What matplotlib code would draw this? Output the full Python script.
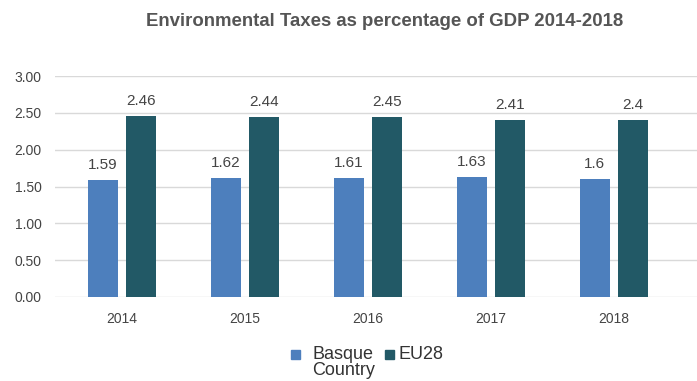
import matplotlib
matplotlib.use("Agg")
import matplotlib.pyplot as plt
import matplotlib.patches as mpatches
import numpy as np

plt.rcParams['font.family'] = ['Liberation Sans', 'DejaVu Sans']

years = ["2014", "2015", "2016", "2017", "2018"]
basque = [1.59, 1.62, 1.61, 1.63, 1.60]
eu28 = [2.46, 2.44, 2.45, 2.41, 2.40]
basque_labels = ["1.59", "1.62", "1.61", "1.63", "1.6"]
eu28_labels = ["2.46", "2.44", "2.45", "2.41", "2.4"]
yticks = [0.0, 0.5, 1.0, 1.5, 2.0, 2.5, 3.0]

c_basque = "#4d7fbd"
c_eu = "#225966"
txt = "#444444"

W, H = 697, 381
fig = plt.figure(figsize=(W / 100, H / 100), dpi=100)
ax = fig.add_axes([0.079, 0.2205, 0.921, 0.5795])

x = np.arange(len(years))
w = 0.245
off = 0.155
b1 = ax.bar(x - off, basque, w, color=c_basque, zorder=3)
b2 = ax.bar(x + off, eu28, w, color=c_eu, zorder=3)

for bars, labels in ((b1, basque_labels), (b2, eu28_labels)):
    for rect, lab in zip(bars, labels):
        ax.annotate(lab, (rect.get_x() + rect.get_width() / 2, rect.get_height()),
                    xytext=(0, 8), textcoords="offset points", ha="center",
                    va="baseline", fontsize=11, color=txt)

ax.set_ylim(0, 3.0)
ax.set_xlim(-0.545, 4.675)
ax.set_yticks(yticks)
ax.set_yticklabels([f"{v:.2f}" for v in yticks])
ax.set_xticks(x)
ax.set_xticklabels(years)
ax.tick_params(axis="both", length=0, labelsize=10, colors=txt)
ax.tick_params(axis="y", pad=9.5)
ax.tick_params(axis="x", pad=11)
ax.grid(axis="y", color="#d9d9d9", linewidth=1, zorder=0)
for s in ax.spines.values():
    s.set_visible(False)

fig.text(384.5 / W, 1 - 21.5 / H, "Environmental Taxes as percentage of GDP 2014-2018",
         ha="center", va="center", fontsize=13.4, fontweight="bold", color="#555555")

# legend: swatches aligned with the first line of each label
def fx(px):
    return px / W

def fy(py):
    return 1 - py / H

sq = 9
for left, text_left, color, label in ((291, 312, c_basque, "Basque\nCountry"),
                                      (385, 398, c_eu, "EU28")):
    fig.patches.append(mpatches.Rectangle((fx(left), fy(359)), sq / W, sq / H,
                                          transform=fig.transFigure, color=color,
                                          figure=fig))
    fig.text(fx(text_left), fy(346), label, ha="left", va="top", fontsize=13,
             color="#333333", linespacing=0.92)

fig.savefig("out.png", dpi=100)
